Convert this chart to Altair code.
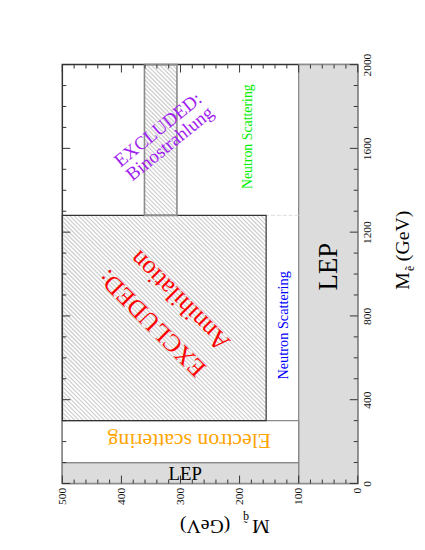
import altair as alt
import pandas as pd

W, H = 299, 424
MQ_MAX, ME_MAX = 500, 2000
FONT = "Liberation Serif"

# ---- data -------------------------------------------------------------
# gray LEP bands (M_q range, M_e range)
lep_mq1 = [0, 100]
lep_mq2 = [100, 500]
lep_me1 = [0, 0]
lep_me2 = [2000, 100]

# electron scattering region
el_mq = [100, 500]
el_me = [100, 300]

# excluded: annihilation (hatched)
ann_mq = [155, 500]
ann_me = [300, 1280]

# excluded: binostrahlung band (hatched)
bino_mq = [306, 361]
bino_me = [1280, 2000]

# labels
label_text = ["LEP", "LEP", "Electron scattering", "Neutron Scattering",
              "Neutron Scattering", "EXCLUDED:", "Annihilation",
              "EXCLUDED:", "Binostrahlung"]
label_mq = [48, 292, 285, 125, 186, 348, 301, 338, 318]
label_me = [1035, 45, 203, 755, 1656, 765, 873, 1689, 1623]

me_major = [0, 400, 800, 1200, 1600, 2000]
me_minor = [v for v in range(0, 2001, 100) if v not in me_major]
mq_major = [0, 100, 200, 300, 400, 500]
mq_minor = [v for v in range(0, 501, 20) if v not in mq_major]

# ---- helpers ----------------------------------------------------------
def px(mq):
    return (MQ_MAX - mq) / MQ_MAX * W

def py(me):
    return H - me / ME_MAX * H

def inv_x(p):
    return MQ_MAX - p / W * MQ_MAX

def inv_y(p):
    return (H - p) / H * ME_MAX

def hatch(mq, me, step=4.3):
    x0, x1 = sorted([px(mq[0]), px(mq[1])])
    y0, y1 = sorted([py(me[0]), py(me[1])])
    rows = []
    c = x0 - y1
    while c < x1 - y0:
        ya = max(y0, x0 - c)
        yb = min(y1, x1 - c)
        if yb > ya:
            rows.append(dict(mq=inv_x(ya + c), me=inv_y(ya),
                             mq2=inv_x(yb + c), me2=inv_y(yb)))
        c += step
    return pd.DataFrame(rows)

xs = alt.Scale(domain=[0, MQ_MAX], reverse=True, nice=False, zero=False)
ys = alt.Scale(domain=[0, ME_MAX], nice=False, zero=False)

xaxis = alt.Axis(
    orient="bottom", values=mq_major, format="d", labelAngle=270, labelAlign="right",
    labelBaseline="middle", ticks=False, domain=False, grid=False, title=None,
    labelFont=FONT, labelFontSize=11.5, labelPadding=4, labelColor="#111")
yaxis = alt.Axis(
    orient="right", values=me_major, format="d", labelAngle=270, labelAlign="center",
    labelBaseline="top", ticks=False, domain=False, grid=False, title=None,
    labelFont=FONT, labelFontSize=11.5, labelPadding=4, labelColor="#111")

def X(f="mq"):
    return alt.X(f + ":Q", scale=xs, axis=xaxis)

def Y(f="me"):
    return alt.Y(f + ":Q", scale=ys, axis=yaxis)

def rect_df(mq, me):
    return pd.DataFrame(dict(mq=[mq[0]], mq2=[mq[1]], me=[me[0]], me2=[me[1]]))

# ---- layers -----------------------------------------------------------
def rect_layer(df, **kw):
    return alt.Chart(df).mark_rect(**kw).encode(
        x=X(), x2="mq2:Q", y=Y(), y2="me2:Q")

lep_df = pd.DataFrame(dict(mq=lep_mq1, mq2=lep_mq2, me=lep_me1, me2=lep_me2))
lep = rect_layer(lep_df, fill="#dcdcdc", stroke="#8a8a8a", strokeWidth=1.3)
electron = rect_layer(rect_df(el_mq, el_me), fill="white", stroke="#8a8a8a", strokeWidth=1.3)

def hatch_layer(mq, me):
    return alt.Chart(hatch(mq, me)).mark_rule(color="#cfcfcf", strokeWidth=1.3).encode(
        x=X(), x2="mq2:Q", y=Y(), y2="me2:Q")

ann_hatch = hatch_layer(ann_mq, ann_me)
bino_hatch = hatch_layer(bino_mq, bino_me)
ann_box = rect_layer(rect_df(ann_mq, ann_me), filled=False, stroke="#333333", strokeWidth=1.2)
bino_box = rect_layer(rect_df(bino_mq, bino_me), filled=False, stroke="#8a8a8a", strokeWidth=1.6)

dash_df = pd.DataFrame(dict(mq=[lep_mq2[0]], mq2=[ann_mq[0]], me=[ann_me[1]]))
dash = alt.Chart(dash_df).mark_rule(color="#dddddd", strokeWidth=1, strokeDash=[4, 2]).encode(
    x=X(), x2="mq2:Q", y=Y())

label_df = pd.DataFrame(dict(text=label_text, mq=label_mq, me=label_me))
styles = [
    dict(color="black", fontSize=27, angle=270),
    dict(color="black", fontSize=19, angle=0),
    dict(color="#ffa500", fontSize=22, angle=180),
    dict(color="#0000ff", fontSize=14.5, angle=270),
    dict(color="#00ee00", fontSize=14, angle=270),
    dict(color="#ff0000", fontSize=25, angle=225),
    dict(color="#ff0000", fontSize=26, angle=225),
    dict(color="#a020f0", fontSize=19, angle=321),
    dict(color="#a020f0", fontSize=19, angle=321),
]
text_layers = []
for i, st in enumerate(styles):
    text_layers.append(
        alt.Chart(label_df.iloc[[i]]).mark_text(
            font=FONT, align="center", baseline="middle", **st).encode(
            x=X(), y=Y(), text="text:N"))

# axis ticks drawn inward on all four sides
def vticks(vals, ln):
    d = pd.DataFrame(dict(me=vals))
    left = alt.Chart(d).mark_rule(color="#333", strokeWidth=1).encode(
        y=Y(), x=alt.value(0), x2=alt.value(ln))
    right = alt.Chart(d).mark_rule(color="#333", strokeWidth=1).encode(
        y=Y(), x=alt.value(W), x2=alt.value(W - ln))
    return [left, right]

def hticks(vals, ln):
    d = pd.DataFrame(dict(mq=vals))
    top = alt.Chart(d).mark_rule(color="#333", strokeWidth=1).encode(
        x=X(), y=alt.value(0), y2=alt.value(ln))
    bottom = alt.Chart(d).mark_rule(color="#333", strokeWidth=1).encode(
        x=X(), y=alt.value(H), y2=alt.value(H - ln))
    return [top, bottom]

ticks = vticks(me_major, 8) + vticks(me_minor, 4) + hticks(mq_major, 8) + hticks(mq_minor, 4)

# axis titles (M with subscript)
def tpart(txt, x, y, size, angle):
    return alt.Chart(pd.DataFrame(dict(t=[txt]))).mark_text(
        font=FONT, fontSize=size, angle=angle, align="left", baseline="alphabetic",
        color="black").encode(x=alt.value(x), y=alt.value(y), text="t:N")

titles = [
    # right title, reading bottom to top
    tpart("M", W + 52, 228, 20, 270),
    tpart("ẽ", W + 57, 209, 12, 270),
    tpart("(GeV)", W + 52, 199, 20, 270),
    # bottom title, upside down
    tpart("M", 210, H + 37, 20, 180),
    tpart("q̃", 189, H + 31, 12, 180),
    tpart("(GeV)", 170, H + 37, 20, 180),
]

chart = alt.layer(lep, electron, ann_hatch, bino_hatch, dash, ann_box, bino_box,
                  *text_layers, *ticks, *titles).properties(
    width=W, height=H,
    autosize=alt.AutoSizeParams(type="none"),
    padding={"left": 55, "top": 54, "right": 60, "bottom": 60},
).configure_view(stroke="#333333", strokeWidth=1.5)

chart.save("out.html", embed_options={"renderer": "svg", "actions": False})
